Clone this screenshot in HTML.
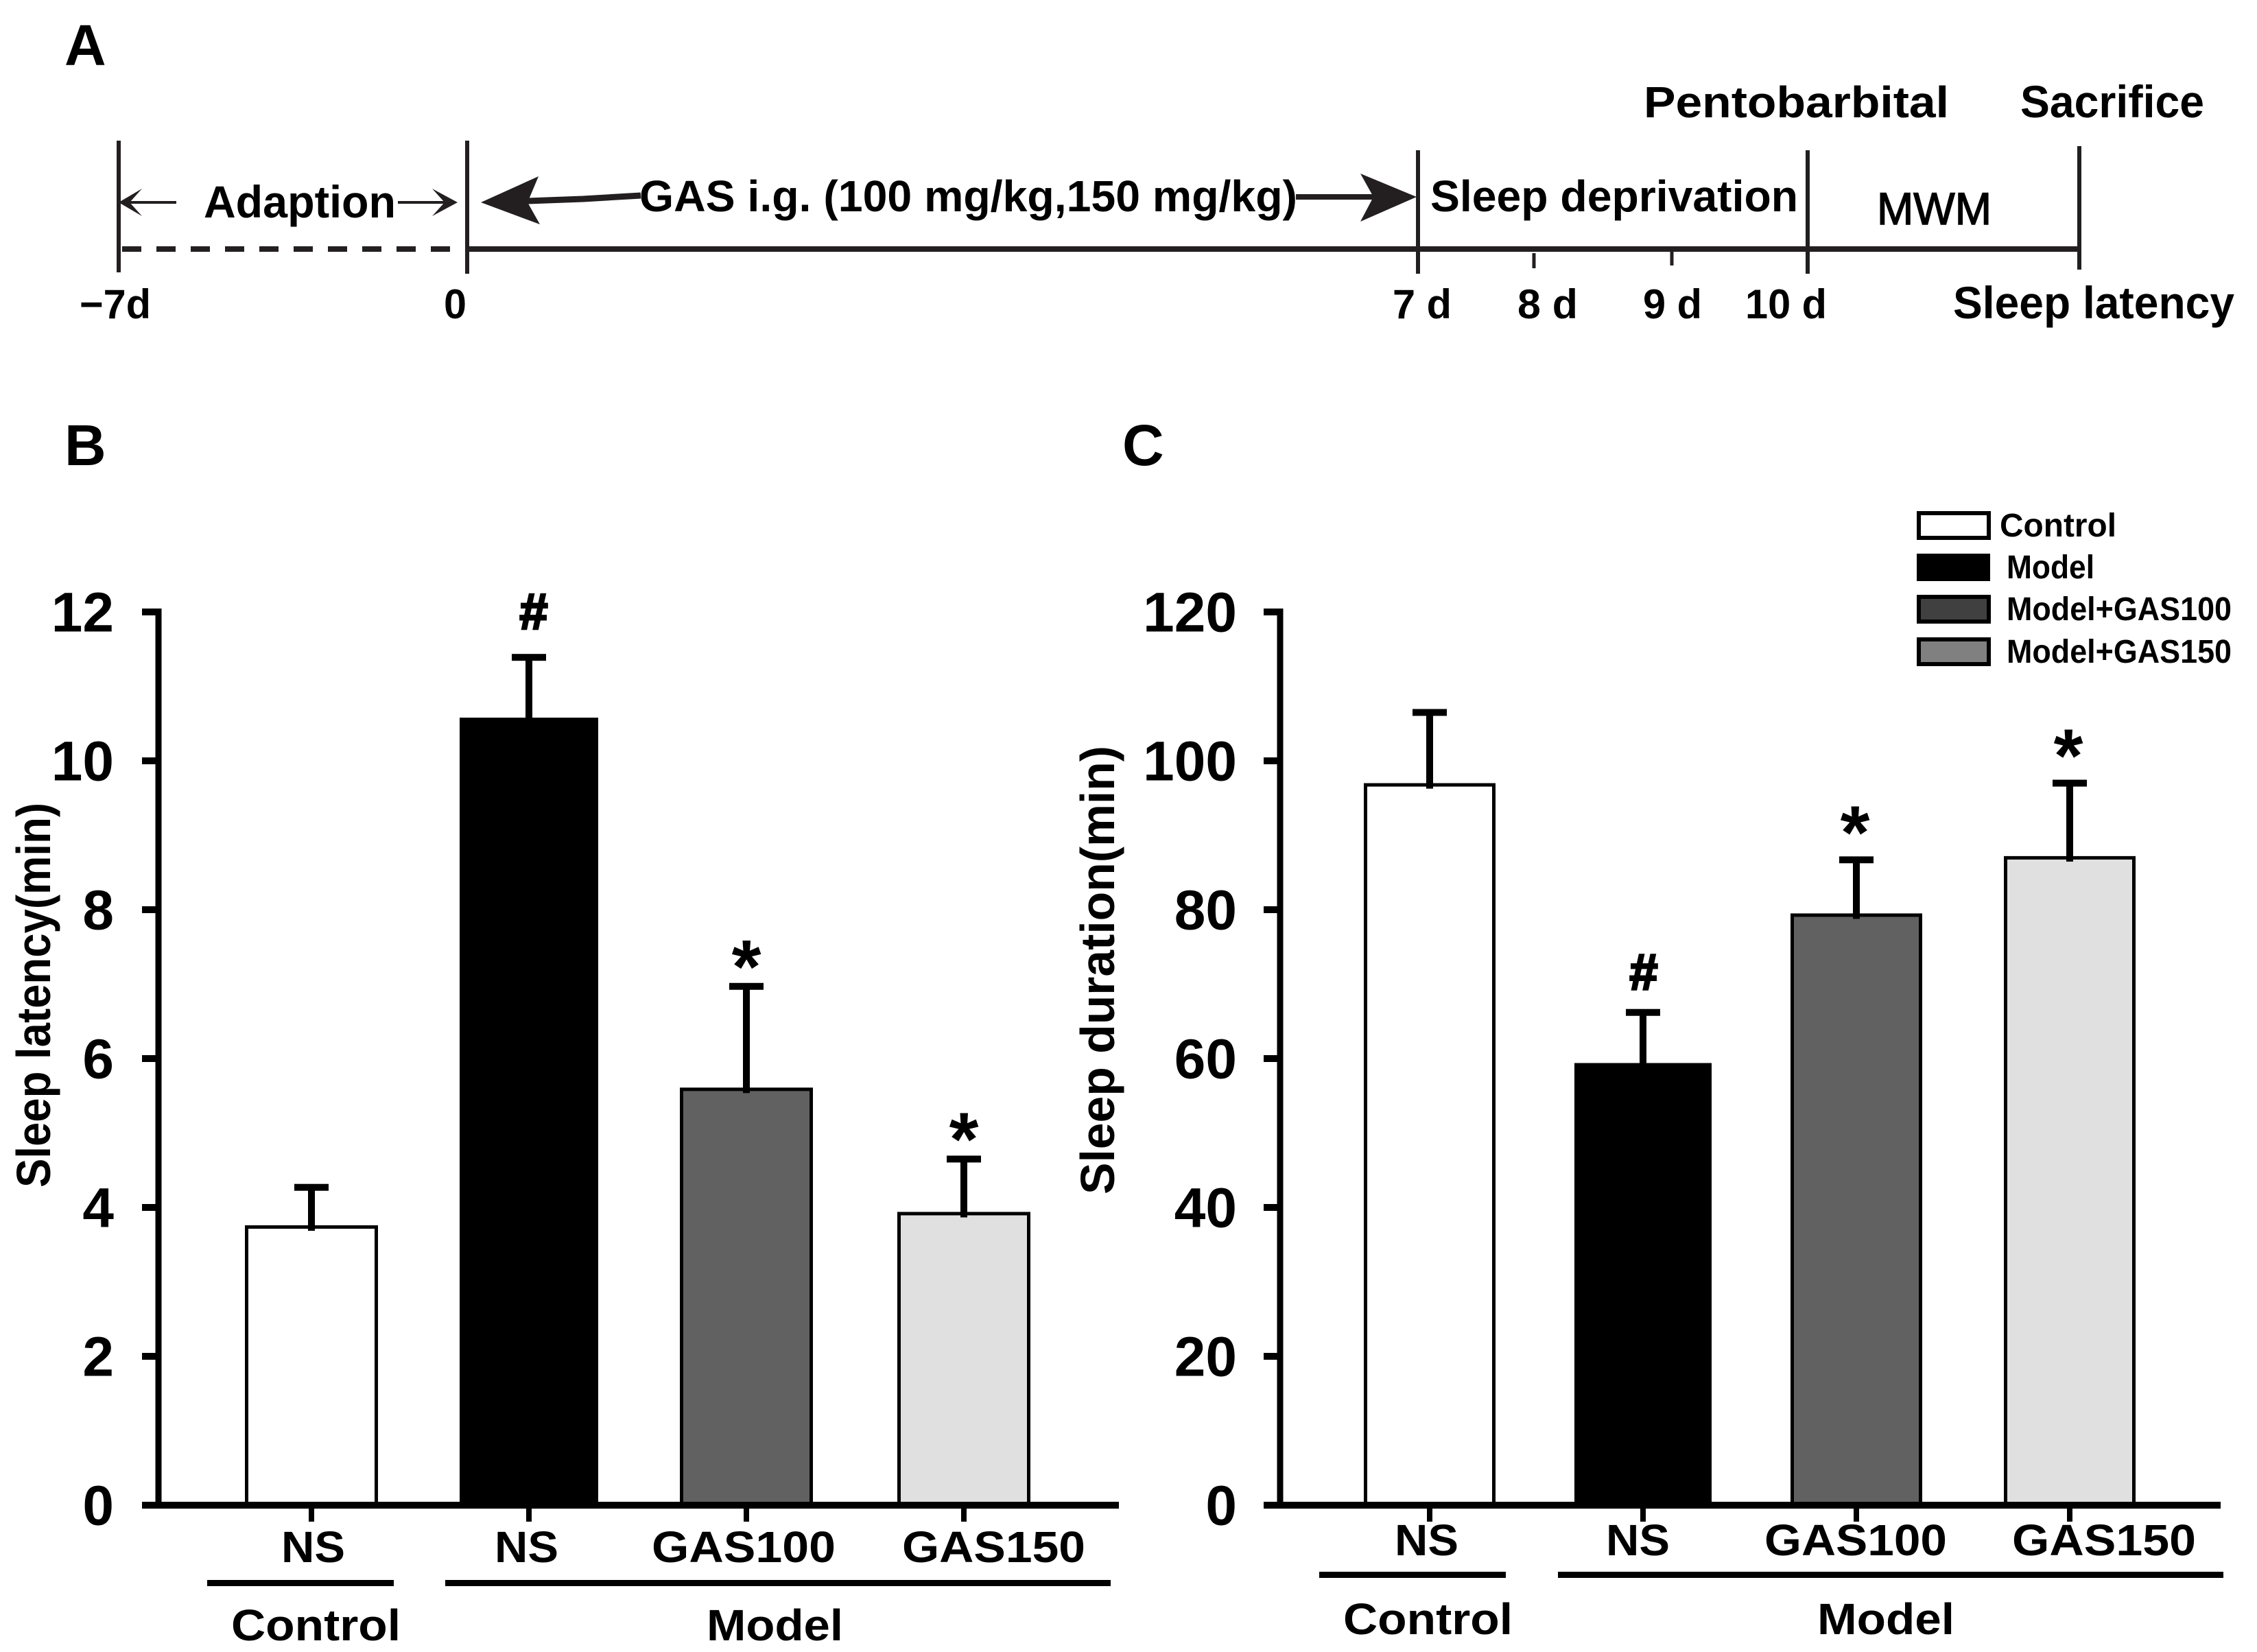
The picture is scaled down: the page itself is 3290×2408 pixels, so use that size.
<!DOCTYPE html>
<html lang="en">
<head>
<meta charset="utf-8">
<title>Sleep latency and duration</title>
<style>
html,body{margin:0;padding:0;background:#fff;width:3290px;height:2408px;overflow:hidden}
svg{display:block}
text{font-family:"Liberation Sans",Arial,sans-serif;font-weight:700;fill:#000}
</style>
</head>
<body>
<svg id="figure" xmlns="http://www.w3.org/2000/svg" width="3290" height="2408" viewBox="0 0 3290 2408">
  <rect x="0" y="0" width="3290" height="2408" fill="#fff"/>

  <!-- Panel letters -->
  <text x="94" y="95" font-size="84">A</text>
  <text x="94" y="678" font-size="84">B</text>
  <text x="1636" y="678" font-size="84">C</text>

  <!-- Panel A timeline -->
  <g stroke="#231f20" fill="none">
    <path d="M178 363H656" stroke-width="8" stroke-dasharray="28 22"/>
    <path d="M681 363H3032" stroke-width="8"/>
    <path d="M173 205V397" stroke-width="6"/>
    <path d="M681 205V399" stroke-width="6"/>
    <path d="M2067 219V399" stroke-width="6"/>
    <path d="M2236 369V391" stroke-width="5"/>
    <path d="M2437 367V387" stroke-width="5"/>
    <path d="M2635 219V399" stroke-width="6"/>
    <path d="M3031 213V393" stroke-width="6"/>
    <path d="M185 295H257" stroke-width="4"/>
    <path d="M580 295H660" stroke-width="4"/>
    <path d="M769 293L850 290L934 285" stroke-width="9"/>
    <path d="M1889 287H2005" stroke-width="8"/>
  </g>
  <g fill="#231f20">
    <path d="M173 295L207 275L189 295L207 315Z"/>
    <path d="M667 295L630 275L648 295L630 315Z"/>
    <path d="M701 295L785 257L769 295L787 327Z"/>
    <path d="M2065 287L1983 253L2002 287L1983 323Z"/>
  </g>
  <text x="297" y="317" font-size="66" textLength="280" lengthAdjust="spacingAndGlyphs">Adaption</text>
  <text x="932" y="308" font-size="64" textLength="959" lengthAdjust="spacingAndGlyphs">GAS i.g. (100 mg/kg,150 mg/kg)</text>
  <text x="2085" y="308" font-size="64" textLength="536" lengthAdjust="spacingAndGlyphs">Sleep deprivation</text>
  <text x="2736" y="327" font-size="66" style="font-weight:400" stroke="#000" stroke-width="1.5" textLength="167" lengthAdjust="spacingAndGlyphs">MWM</text>
  <text x="2396" y="171" font-size="64" textLength="445" lengthAdjust="spacingAndGlyphs">Pentobarbital</text>
  <text x="2945" y="171" font-size="66" textLength="268" lengthAdjust="spacingAndGlyphs">Sacrifice</text>
  <text x="116" y="464" font-size="60" textLength="104" lengthAdjust="spacingAndGlyphs">−7d</text>
  <text x="647" y="464" font-size="60" textLength="33" lengthAdjust="spacingAndGlyphs">0</text>
  <text x="2030" y="464" font-size="60" textLength="86" lengthAdjust="spacingAndGlyphs">7 d</text>
  <text x="2212" y="464" font-size="60" textLength="88" lengthAdjust="spacingAndGlyphs">8 d</text>
  <text x="2395" y="464" font-size="60" textLength="86" lengthAdjust="spacingAndGlyphs">9 d</text>
  <text x="2544" y="464" font-size="60" textLength="119" lengthAdjust="spacingAndGlyphs">10 d</text>
  <text x="2847" y="464" font-size="66" textLength="410" lengthAdjust="spacingAndGlyphs">Sleep latency</text>

  <!-- Panel B static labels -->
  <text transform="translate(73,1731) rotate(-90)" font-size="70" textLength="561" lengthAdjust="spacingAndGlyphs">Sleep latency(min)</text>
  <text x="410" y="2277" font-size="64" textLength="93" lengthAdjust="spacingAndGlyphs">NS</text>
  <text x="721" y="2277" font-size="64" textLength="93" lengthAdjust="spacingAndGlyphs">NS</text>
  <text x="950" y="2277" font-size="64" textLength="268" lengthAdjust="spacingAndGlyphs">GAS100</text>
  <text x="1315" y="2277" font-size="64" textLength="267" lengthAdjust="spacingAndGlyphs">GAS150</text>
  <rect x="302" y="2303" width="272" height="9" fill="#000"/>
  <rect x="649" y="2303" width="970" height="9" fill="#000"/>
  <text x="337" y="2391" font-size="64" textLength="247" lengthAdjust="spacingAndGlyphs">Control</text>
  <text x="1030" y="2391" font-size="64" textLength="199" lengthAdjust="spacingAndGlyphs">Model</text>

  <!-- Panel C static labels -->
  <text transform="translate(1624,1741) rotate(-90)" font-size="70" textLength="654" lengthAdjust="spacingAndGlyphs">Sleep duration(min)</text>
  <text x="2033" y="2267" font-size="64" textLength="93" lengthAdjust="spacingAndGlyphs">NS</text>
  <text x="2341" y="2267" font-size="64" textLength="93" lengthAdjust="spacingAndGlyphs">NS</text>
  <text x="2572" y="2267" font-size="64" textLength="266" lengthAdjust="spacingAndGlyphs">GAS100</text>
  <text x="2933" y="2267" font-size="64" textLength="268" lengthAdjust="spacingAndGlyphs">GAS150</text>
  <rect x="1923" y="2291" width="272" height="9" fill="#000"/>
  <rect x="2271" y="2291" width="970" height="9" fill="#000"/>
  <text x="1958" y="2382" font-size="64" textLength="247" lengthAdjust="spacingAndGlyphs">Control</text>
  <text x="2649" y="2382" font-size="64" textLength="200" lengthAdjust="spacingAndGlyphs">Model</text>

  <!-- Legend -->
  <g>
    <g>
      <rect x="2797" y="748" width="102" height="36" fill="#fff" stroke="#000" stroke-width="6"/>
      <text x="2915" y="782" font-size="48" textLength="170" lengthAdjust="spacingAndGlyphs">Control</text>
    </g>
    <g>
      <rect x="2794" y="807" width="107" height="40" fill="#000"/>
      <text x="2925" y="843" font-size="48" textLength="128" lengthAdjust="spacingAndGlyphs">Model</text>
    </g>
    <g>
      <rect x="2797" y="870" width="102" height="36" fill="#404040" stroke="#000" stroke-width="6"/>
      <text x="2925" y="904" font-size="48" textLength="328" lengthAdjust="spacingAndGlyphs">Model+GAS100</text>
    </g>
    <g>
      <rect x="2797" y="932" width="102" height="36" fill="#808080" stroke="#000" stroke-width="6"/>
      <text x="2925" y="966" font-size="48" textLength="328" lengthAdjust="spacingAndGlyphs">Model+GAS150</text>
    </g>
  </g>

  <g id="chart-b"></g>
  <g id="chart-c"></g>
</svg>

<script>
// Chart data
var groups = ['control-ns', 'model-ns', 'model-gas100', 'model-gas150'];
var fills = ['#ffffff', '#000000', '#616161', '#e0e0e0'];
var latencyValues = [3.76, 10.58, 5.61, 3.94];
var latencyErrors = [0.51, 0.81, 1.36, 0.71];
var latencyMarks = ['', '#', '*', '*'];
var latencyTicks = [0, 2, 4, 6, 8, 10, 12];
var durationValues = [97.0, 59.4, 79.5, 87.2];
var durationErrors = [9.5, 6.8, 7.2, 9.8];
var durationMarks = ['', '#', '*', '*'];
var durationTicks = [0, 20, 40, 60, 80, 100, 120];

var NS = 'http://www.w3.org/2000/svg';

function make(parent, tag, attrs) {
  var node = document.createElementNS(NS, tag);
  for (var key in attrs) node.setAttribute(key, attrs[key]);
  parent.appendChild(node);
  return node;
}

function drawChart(cfg) {
  var root = document.getElementById(cfg.id);
  var y0 = 2194;
  var yTop = 892;
  function yScale(v) { return y0 - (v / cfg.max) * (y0 - yTop); }
  function xScale(i) { return cfg.first + i * cfg.step; }

  cfg.values.forEach(function (v, i) {
    var cx = xScale(i);
    var top = yScale(v);
    var errTop = yScale(v + cfg.errors[i]);
    var width = cfg.barWidth + (fills[i] === '#000000' ? 8 : 0);

    var stem = make(root, 'rect', {x: cx - 5, y: errTop, width: 10, height: top - errTop + 8, fill: '#000'});
    
    

    var cap = make(root, 'rect', {x: cx - 25, y: errTop - 5, width: 50, height: 10, fill: '#000'});
    
    

    var bar = make(root, 'rect', {
      x: cx - width / 2 + 2.5,
      y: top + 2.5,
      width: width - 5,
      height: y0 - top - 2.5,
      fill: fills[i],
      stroke: '#000',
      'stroke-width': 5
    });
    
    

    var stub = make(root, 'rect', {x: cx - 5, y: top, width: 10, height: 8, fill: '#000'});
    
    

    var tick = make(root, 'rect', {x: cx - 4, y: y0, width: 8, height: 24, fill: '#000'});
    
    

    var mark = cfg.marks[i];
    if (mark) {
      var isHash = mark === '#';
      var label = make(root, 'text', {
        x: cx + (isHash ? cfg.hashDx : cfg.starDx),
        y: errTop + (isHash ? cfg.hashDy : cfg.starDy),
        'font-size': isHash ? 74 : 110,
        'text-anchor': 'middle',
        stroke: '#000',
        'stroke-width': isHash ? 3 : 0
      });
      label.textContent = mark;
      
      
    }
  });

  var yAxis = make(root, 'rect', {x: cfg.axisX - 4.5, y: yTop - 5, width: 9, height: y0 - yTop + 10, fill: '#000'});
  
  

  var xAxis = make(root, 'rect', {x: cfg.axisX - 24, y: y0 - 5, width: cfg.axisEnd - cfg.axisX + 24, height: 10, fill: '#000'});
  
  

  cfg.ticks.forEach(function (t) {
    var ty = yScale(t);
    var tick = make(root, 'rect', {x: cfg.axisX - 24, y: ty - 5, width: 24, height: 10, fill: '#000'});
    
    

    var label = make(root, 'text', {x: cfg.labelRight, y: ty + 28.5, 'font-size': 82, 'text-anchor': 'end'});
    label.textContent = String(t);
    
    
  });
}

drawChart({id: 'chart-b', values: latencyValues, errors: latencyErrors, marks: latencyMarks, ticks: latencyTicks,
  max: 12, first: 454, step: 317, barWidth: 194, axisX: 231, axisEnd: 1631, labelRight: 166,
  hashDx: 7, hashDy: -41, starDx: 0, starDy: 9});
drawChart({id: 'chart-c', values: durationValues, errors: durationErrors, marks: durationMarks, ticks: durationTicks,
  max: 120, first: 2084, step: 311, barWidth: 192, axisX: 1866, axisEnd: 3237, labelRight: 1803,
  hashDx: 1, hashDy: -33, starDx: -2, starDy: -2});
</script>
</body>
</html>
